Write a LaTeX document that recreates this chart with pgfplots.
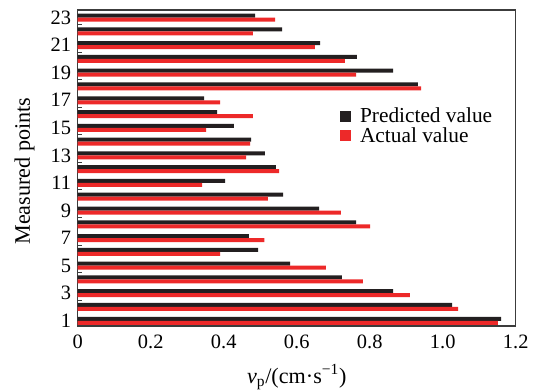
\documentclass[border=0pt]{standalone}
\usepackage{fontspec}
\setmainfont{Liberation Serif}
\usepackage{pgfplots}
\pgfplotsset{compat=1.18}
\definecolor{pblack}{RGB}{35,31,32}
\definecolor{ared}{RGB}{237,41,41}
\definecolor{frame}{RGB}{60,60,60}
\begin{document}
\begin{tikzpicture}
\useasboundingbox (-58.3pt,-47.25pt) rectangle (342.2pt,244.5pt);
\begin{axis}[
  at={(0,0)}, anchor=south west,
  scale only axis,
  width=328.5pt, height=237pt,
  xbar,
  bar width=0.29,
  xmin=0, xmax=1.2,
  ymin=0.62, ymax=23.55,
  xtick={0,0.2,0.4,0.6,0.8,1.0,1.2},
  xticklabels={0,0.2,0.4,0.6,0.8,1.0,1.2},
  ytick={1,3,...,23},
  yticklabels={1,3,5,7,9,11,13,15,17,19,21,23},
  minor ytick={2.5,4.5,...,22.5},
  major tick length=3pt,
  minor tick length=3pt,
  tick align=inside,
  xtick pos=bottom,
  ytick pos=left,
  major y tick style={draw=none},
  minor y tick style={draw=frame, line width=0.7pt},
  major x tick style={draw=frame, line width=0.7pt},
  axis line style={draw=frame, line width=0.9pt},
  /pgf/number format/assume math mode=true,
  tick label style={font=\fontsize{15.3}{18}\selectfont},
  xticklabel style={yshift=-3.5pt},
  yticklabel style={xshift=-1.5pt},
  xlabel={\textit{v}\textsubscript{p}/(cm·s\textsuperscript{\char"2212 1})},
  ylabel={Measured points},
  label style={font=\fontsize{16.6}{19}\selectfont},
  xlabel style={at={(axis description cs:0.5,-0.1804)}, anchor=base},
  ylabel style={at={(axis description cs:-0.109,0.49)}, anchor=base},
  legend style={at={(0.59,0.708)}, anchor=north west, draw=none, fill=none,
    font=\fontsize{16}{19}\selectfont, row sep=-2pt,
    legend cell align=left},
  legend image code/.code={\fill[#1] (0pt,-4.1pt) rectangle (8.25pt,4.1pt);},
]
\addplot[fill=pblack, draw=none, bar shift=0.145] coordinates {
(1.160,1) (1.026,2) (0.864,3) (0.724,4) (0.582,5) (0.494,6) (0.469,7) (0.763,8)
(0.661,9) (0.563,10) (0.404,11) (0.543,12) (0.513,13) (0.475,14) (0.428,15)
(0.382,16) (0.346,17) (0.932,18) (0.864,19) (0.765,20) (0.664,21) (0.560,22) (0.486,23)
};
\addlegendentry{\hspace{4.5pt}Predicted value}
\addplot[fill=ared, draw=none, bar shift=-0.145] coordinates {
(1.151,1) (1.042,2) (0.910,3) (0.781,4) (0.680,5) (0.390,6) (0.511,7) (0.801,8)
(0.721,9) (0.521,10) (0.341,11) (0.552,12) (0.461,13) (0.472,14) (0.352,15)
(0.480,16) (0.390,17) (0.941,18) (0.763,19) (0.732,20) (0.650,21) (0.480,22) (0.541,23)
};
\addlegendentry{\hspace{4.5pt}Actual value}
\end{axis}
\end{tikzpicture}
\end{document}
